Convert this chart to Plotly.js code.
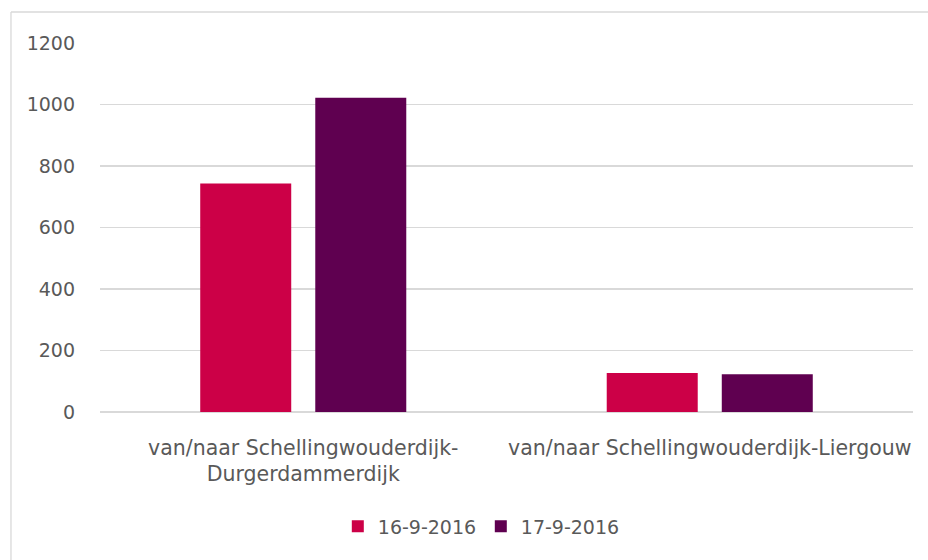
<!DOCTYPE html>
<html>
<head>
<meta charset="utf-8">
<script src="https://cdn.plot.ly/plotly-3.0.1.min.js"></script>
<style>html,body{margin:0;padding:0;background:#fff;}#chart{width:928px;height:560px;}</style>
</head>
<body>
<div id="chart"></div>
<script>
const categories = ["van/naar Schellingwouderdijk-<br>Durgerdammerdijk", "van/naar Schellingwouderdijk-Liergouw"];
const seriesNames = ["16-9-2016", "17-9-2016"];
const values1609 = [743, 127];
const values1709 = [1022, 123];
const colors = ["#cc0047", "#5f0050"];
const yTicks = [0, 200, 400, 600, 800, 1000, 1200];

const font = {family: "'DejaVu Sans', sans-serif", size: 19, color: "#595959"};
const xfont = {family: "'DejaVu Sans', sans-serif", size: 20.5, color: "#595959"};
const grid = "#d9d9d9";

const data = [
  {type: "bar", name: seriesNames[0], x: categories, y: values1609, marker: {color: colors[0]}, hoverinfo: "none"},
  {type: "bar", name: seriesNames[1], x: categories, y: values1709, marker: {color: colors[1]}, hoverinfo: "none"}
];

const layout = {
  width: 928, height: 560,
  margin: {l: 100, r: 15, t: 43, b: 148, pad: 0},
  paper_bgcolor: "#fff", plot_bgcolor: "#fff",
  font: font,
  showlegend: true,
  barmode: "group",
  bargap: 0.434,
  bargroupgap: 0.209,
  xaxis: {
    type: "category",
    showgrid: false, zeroline: false, showline: false,
    ticks: "", tickfont: xfont,
    ticklabelstandoff: 21
  },
  yaxis: {
    range: [0, 1200],
    tickvals: yTicks,
    ticktext: yTicks.map(String),
    showgrid: true, gridcolor: grid, gridwidth: 1.3,
    zeroline: true, zerolinecolor: grid, zerolinewidth: 1.3,
    showline: false, ticks: "", tickfont: font,
    ticklabelstandoff: 24
  },
  legend: {
    orientation: "h",
    x: 0.2925, xanchor: "left",
    y: -0.31, yanchor: "middle",
    font: font,
    entrywidth: 98,
    traceorder: "normal"
  },
  shapes: [
    {type: "line", xref: "paper", yref: "paper", x0: -0.1095, x1: 1.03, y0: 1.084, y1: 1.084, line: {color: grid, width: 1.3}},
    {type: "line", xref: "paper", yref: "paper", x0: -0.1095, x1: -0.1095, y0: 1.084, y1: -0.45, line: {color: grid, width: 1.3}}
  ]
};

Plotly.newPlot("chart", data, layout, {displayModeBar: false, staticPlot: true});
</script>
</body>
</html>
